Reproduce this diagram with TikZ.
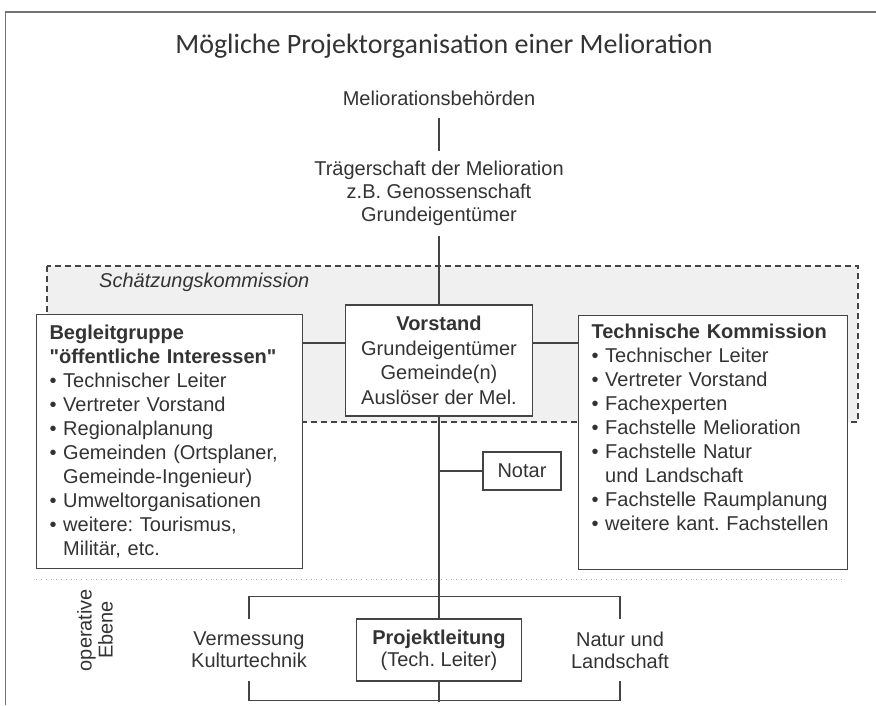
\documentclass[tikz,border=0pt]{standalone}
\usepackage{fontspec}
\setmainfont{Liberation Sans}
\newfontfamily\titlefont{Carlito}
\definecolor{ink}{HTML}{333333}
\definecolor{rule}{HTML}{444444}
\newcommand{\txt}{\fontsize{20}{24}\selectfont}
\newcommand{\bul}{\textbullet\ }
\newcommand{\ind}{\phantom{\textbullet\ }}
\frenchspacing
\begin{document}
\begin{tikzpicture}[x=1pt,y=-1pt,
		every node/.style={text=ink,font=\txt},
		line/.style={draw=rule,line width=1.1pt},
		box/.style={line,fill=white},
		sidebox/.style={box,anchor=north west,align=left,inner xsep=13pt,inner ysep=0pt,minimum height=254pt},
		plain/.style={align=center,inner sep=0pt}]
			\useasboundingbox (0,0) rectangle (876,705);
			\draw[black!55,line width=1.5pt] (5.5,705) -- (5.5,12) -- (876,12);
			\draw[rule,line width=1.1pt,dash pattern=on 6pt off 4pt,fill=black!6] (47,266) rectangle (858,422);
			\draw[black!35,line width=1pt,dash pattern=on 1pt off 4pt] (36,579) -- (844,579);
			\coordinate (tie) at (0,343);
			\node[font=\titlefont\fontsize{28}{30}\selectfont] (title) at (444,46) {Mögliche Projektorganisation einer Melioration};
			\node[plain,inner ysep=12pt] (mb) at (439,98) {Meliorationsbehörden};
			\node[plain,inner ysep=10pt,font=\fontsize{20}{23}\selectfont] (tr) at (439,193.5) {Trägerschaft der Melioration\\z.B. Genossenschaft\\Grundeigentümer};
			\node[anchor=west,inner sep=0pt,font=\txt\itshape] (sk) at (99,282) {Schätzungskommission};
			\node[sidebox,text width=240pt] (bg) at (36,314) {\textbf{Begleitgruppe}\\
				\textbf{\textquotedbl öffentliche Interessen\textquotedbl}\\
				\bul Technischer Leiter\\
				\bul Vertreter Vorstand\\
				\bul Regionalplanung\\
				\bul Gemeinden (Ortsplaner,\\
				\ind Gemeinde-Ingenieur)\\
				\bul Umweltorganisationen\\
				\bul weitere: Tourismus,\\
				\ind Militär, etc.};
			\node[box,align=center,inner sep=0pt,minimum width=187pt,minimum height=111pt,font=\fontsize{20}{24.5}\selectfont] (vs) at (439,360.5) {\textbf{Vorstand}\\Grundeigentümer\\Gemeinde(n)\\Auslöser der Mel.};
			\node[sidebox,text width=243pt] (tk) at (578,315) {\textbf{Technische Kommission}\\
				\bul Technischer Leiter\\
				\bul Vertreter Vorstand\\
				\bul Fachexperten\\
				\bul Fachstelle Melioration\\
				\bul Fachstelle Natur\\
				\ind und Landschaft\\
				\bul Fachstelle Raumplanung\\
				\bul weitere kant. Fachstellen\\
				\strut};
			\node[box,inner sep=0pt,minimum width=78pt,minimum height=38pt] (notar) at (522,471) {Notar};
			\node[plain,rotate=90,font=\fontsize{20}{21}\selectfont] (op) at (95,630) {operative\\Ebene};
			\node[box,align=center,inner sep=0pt,minimum width=165pt,minimum height=62pt,font=\fontsize{20}{22}\selectfont] (pl) at (439,650) {\textbf{Projektleitung}\\(Tech. Leiter)};
			\node[plain,minimum height=61pt,font=\fontsize{20}{22}\selectfont] (vm) at (249,650) {Vermessung\\Kulturtechnik};
			\node[plain,minimum height=61pt,font=\fontsize{20}{22}\selectfont] (nl) at (620,650) {Natur und\\Landschaft};
			\draw[line] (mb.south) -- (tr.north);
			\draw[line] (tr.south) -- (vs.north);
			\draw[line] (vs.south) -- (pl.north);
			\draw[line] (pl.south) -- ++(0,20);
			\draw[line] (bg.east |- tie) -- (vs.west |- tie);
			\draw[line] (vs.east |- tie) -- (tk.west |- tie);
			\draw[line] (notar.west) -- (notar.west -| vs.south);
			\draw[line] (vm.north) -- ++(0,-22.5) -| (nl.north);
			\draw[line] (vm.south) -- ++(0,20) -| (nl.south);
		\end{tikzpicture}
\end{document}
